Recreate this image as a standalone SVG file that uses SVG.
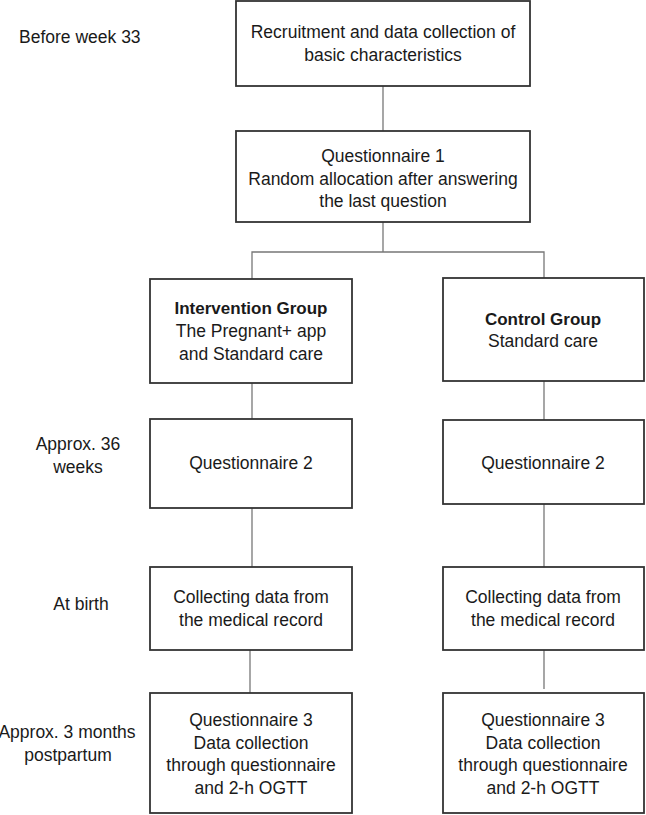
<svg xmlns="http://www.w3.org/2000/svg" width="646" height="815" viewBox="0 0 646 815">
<style>
.box{fill:#fff;stroke:#333;stroke-width:1.8}
.t{font-family:"Liberation Sans",Arial,sans-serif;font-size:17.5px;fill:#1a1a1a;text-anchor:middle}
.b{font-weight:bold;font-size:17px}
.lab{font-family:"Liberation Sans",Arial,sans-serif;font-size:17.5px;fill:#1a1a1a}
.c{stroke:#777;stroke-width:1.3;fill:none}
</style>
<rect width="646" height="815" fill="#fff"/>
<g id="connectors">
<line class="c" x1="383" y1="86" x2="383" y2="131"/>
<line class="c" x1="383" y1="222" x2="383" y2="252"/>
<polyline class="c" points="252,279 252,252 544,252 544,278"/>
<line class="c" x1="252" y1="383" x2="252" y2="419"/>
<line class="c" x1="252" y1="508" x2="252" y2="567"/>
<line class="c" x1="250" y1="650" x2="250" y2="693"/>
<line class="c" x1="544" y1="381" x2="544" y2="420"/>
<line class="c" x1="544" y1="504" x2="544" y2="567"/>
<line class="c" x1="544" y1="640" x2="544" y2="689"/>
</g>
<g id="label-before33"><text class="lab" x="19" y="43">Before week 33</text></g>
<g id="label-36"><text class="t" x="78" y="450">Approx. 36</text><text class="t" x="78" y="473">weeks</text></g>
<g id="label-birth"><text class="t" x="81" y="610">At birth</text></g>
<g id="label-3m"><text class="t" x="67" y="738">Approx. 3 months</text><text class="t" x="68" y="761">postpartum</text></g>
<g id="recruit">
<rect class="box" x="236" y="1" width="294" height="85"/>
<text class="t" x="383" y="38">Recruitment and data collection of</text>
<text class="t" x="383" y="61">basic characteristics</text>
</g>
<g id="q1">
<rect class="box" x="236" y="131" width="294" height="91"/>
<text class="t" x="383" y="162">Questionnaire 1</text>
<text class="t" x="383" y="185">Random allocation after answering</text>
<text class="t" x="383" y="207">the last question</text>
</g>
<g id="intervention">
<rect class="box" x="150" y="279" width="202" height="104"/>
<text class="t b" x="251" y="314">Intervention Group</text>
<text class="t" x="251" y="337">The Pregnant+ app</text>
<text class="t" x="251" y="360">and Standard care</text>
</g>
<g id="control">
<rect class="box" x="443" y="278" width="201" height="103"/>
<text class="t b" x="543" y="325">Control Group</text>
<text class="t" x="543" y="347">Standard care</text>
</g>
<g id="q2-int">
<rect class="box" x="150" y="419" width="202" height="89"/>
<text class="t" x="251" y="469">Questionnaire 2</text>
</g>
<g id="q2-ctl">
<rect class="box" x="443" y="420" width="201" height="84"/>
<text class="t" x="543" y="469">Questionnaire 2</text>
</g>
<g id="med-int">
<rect class="box" x="150" y="567" width="202" height="83"/>
<text class="t" x="251" y="603">Collecting data from</text>
<text class="t" x="251" y="626">the medical record</text>
</g>
<g id="med-ctl">
<rect class="box" x="443" y="567" width="201" height="83"/>
<text class="t" x="543" y="603">Collecting data from</text>
<text class="t" x="543" y="626">the medical record</text>
</g>
<g id="q3-int">
<rect class="box" x="150" y="693" width="202" height="120"/>
<text class="t" x="251" y="726">Questionnaire 3</text>
<text class="t" x="251" y="749">Data collection</text>
<text class="t" x="251" y="771">through questionnaire</text>
<text class="t" x="251" y="794">and 2-h OGTT</text>
</g>
<g id="q3-ctl">
<rect class="box" x="443" y="693" width="201" height="120"/>
<text class="t" x="543" y="726">Questionnaire 3</text>
<text class="t" x="543" y="749">Data collection</text>
<text class="t" x="543" y="771">through questionnaire</text>
<text class="t" x="543" y="794">and 2-h OGTT</text>
</g>
</svg>
